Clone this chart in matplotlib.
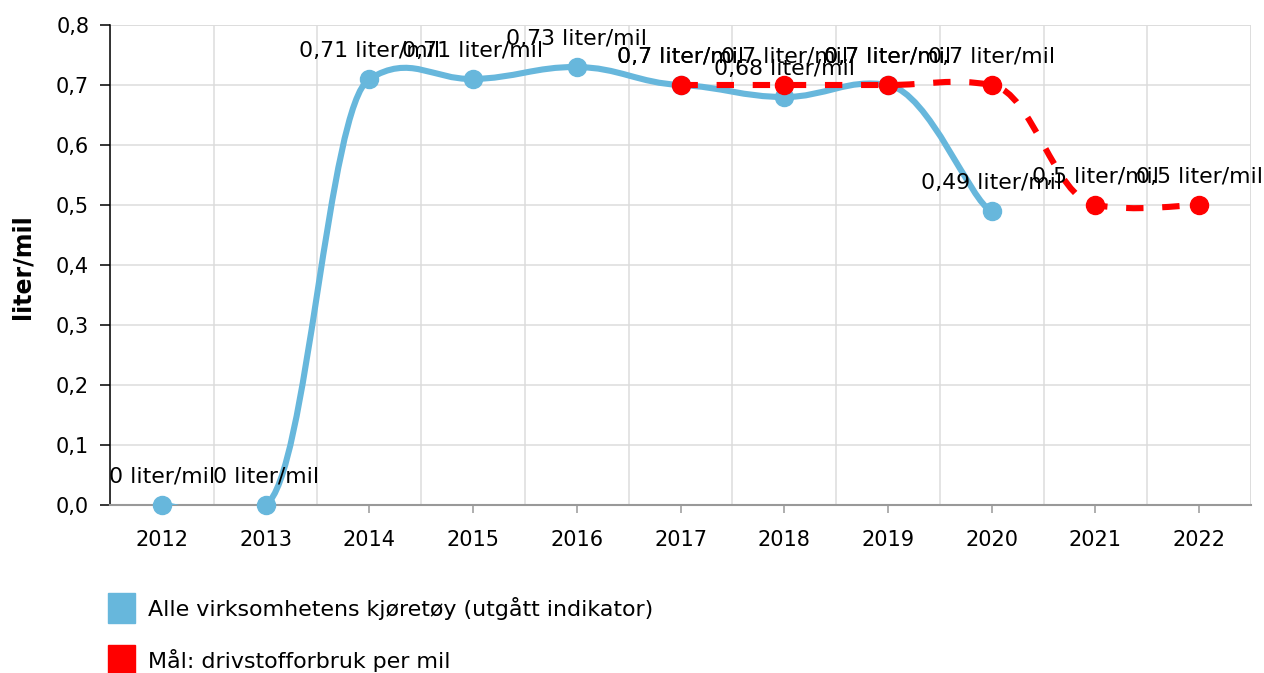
import numpy as np
import matplotlib
matplotlib.use("Agg")
import matplotlib.pyplot as plt
from matplotlib.path import Path
from matplotlib.patches import PathPatch, Rectangle

# values
years = [2012, 2013, 2014, 2015, 2016, 2017, 2018, 2019, 2020, 2021, 2022]
blue_years = [2012, 2013, 2014, 2015, 2016, 2017, 2018, 2019, 2020]
blue_vals = [0.0, 0.0, 0.71, 0.71, 0.73, 0.70, 0.68, 0.70, 0.49]
red_years = [2017, 2018, 2019, 2020, 2021, 2022]
red_vals = [0.7, 0.7, 0.7, 0.7, 0.5, 0.5]
yticks = [0.0, 0.1, 0.2, 0.3, 0.4, 0.5, 0.6, 0.7, 0.8]
blue_name = "Alle virksomhetens kjøretøy (utgått indikator)"
red_name = "Mål: drivstofforbruk per mil"
unit = "liter/mil"

BLUE = "#67b7dc"
RED = "#ff0000"
GRID = "#dcdcdc"

plt.rcParams['font.family'] = ['DejaVu Sans']
plt.rcParams['lines.scale_dashes'] = False

W, H = 1264, 673
fig = plt.figure(figsize=(W / 100, H / 100), dpi=100)
ax = fig.add_axes([110 / W, (H - 505) / H, (1251 - 110) / W, 480 / H])


def smooth_path(xs, ys, kx=0.2, ky=0.06):
    # tension-style bezier through the points (separate x / y arm lengths)
    pts = list(zip(xs, ys))
    n = len(pts)
    verts = [pts[0]]
    codes = [Path.MOVETO]
    for i in range(n - 1):
        p0 = pts[max(i - 1, 0)]
        p1 = pts[i]
        p2 = pts[i + 1]
        p3 = pts[min(i + 2, n - 1)]
        c1 = (p1[0] + (p2[0] - p0[0]) * kx, p1[1] + (p2[1] - p0[1]) * ky)
        c2 = (p2[0] - (p3[0] - p1[0]) * kx, p2[1] - (p3[1] - p1[1]) * ky)
        verts += [c1, c2, p2]
        codes += [Path.CURVE4] * 3
    return Path(verts, codes)


def idx(yrs):
    return [years.index(y) for y in yrs]


def fmt(v):
    return f"{v:g}".replace('.', ',') + " " + unit


bx = idx(blue_years)
rx = idx(red_years)

ax.add_patch(PathPatch(smooth_path(bx, blue_vals), fill=False, edgecolor=BLUE,
                       lw=4.4, capstyle='round', joinstyle='round', zorder=3))
ax.plot(bx, blue_vals, 'o', color=BLUE, ms=13, zorder=4, clip_on=False)

ax.add_patch(PathPatch(smooth_path(rx, red_vals), fill=False, edgecolor=RED,
                       lw=4.4, linestyle=(0, (12.5, 13.5)), capstyle='butt', zorder=5))
ax.plot(rx, red_vals, 'o', color=RED, ms=13, zorder=6, clip_on=False)

for x, v in zip(bx, blue_vals):
    ax.annotate(fmt(v), (x, v), xytext=(0, 16), textcoords='offset points',
                ha='center', va='baseline', fontsize=15.8, color='black',
                zorder=7, annotation_clip=False)
for x, v in zip(rx, red_vals):
    ax.annotate(fmt(v), (x, v), xytext=(0, 16), textcoords='offset points',
                ha='center', va='baseline', fontsize=15.8, color='black',
                zorder=7, annotation_clip=False)

# axes
ax.set_xlim(-0.5, len(years) - 0.5)
ax.set_ylim(0, 0.8)
ax.set_xticks(range(len(years)))
ax.set_xticklabels([str(y) for y in years], fontsize=15)
ax.set_xticks(np.arange(-0.5, len(years)), minor=True)
ax.set_yticks(yticks)
ax.set_yticklabels([f"{v:.1f}".replace('.', ',') for v in yticks], fontsize=15)

ax.grid(True, which='minor', axis='x', color=GRID, lw=1.1)
ax.grid(True, which='major', axis='y', color=GRID, lw=1.1)
ax.set_axisbelow(True)
ax.tick_params(axis='x', which='minor', length=0)
ax.tick_params(axis='x', which='major', length=6, width=1.1, color='#999999', pad=12)
ax.tick_params(axis='y', length=7, width=1.1, color='black', pad=8)

for s in ['top', 'right']:
    ax.spines[s].set_visible(False)
ax.spines['left'].set_color('black')
ax.spines['left'].set_linewidth(1.1)
ax.spines['bottom'].set_color('#999999')
ax.spines['bottom'].set_linewidth(1.5)
ax.axvline(len(years) - 0.5, color=GRID, lw=1.1, zorder=0)
ax.axhline(0.8, color=GRID, lw=1.1, zorder=0)

fig.text(22 / W, 1 - 267 / H, unit, rotation=90, ha='center', va='center',
         fontsize=17, fontweight='bold')

# legend
fig.add_artist(Rectangle((108 / W, 1 - 623 / H), 27 / W, 30 / H,
                         transform=fig.transFigure, color=BLUE))
fig.text(148 / W, 1 - 608 / H, blue_name, ha='left', va='center', fontsize=15.9)
fig.add_artist(Rectangle((108 / W, 1 - 675 / H), 27 / W, 30 / H,
                         transform=fig.transFigure, color=RED))
fig.text(148 / W, 1 - 660 / H, red_name, ha='left', va='center', fontsize=15.9)

fig.savefig("out.png", dpi=100)
